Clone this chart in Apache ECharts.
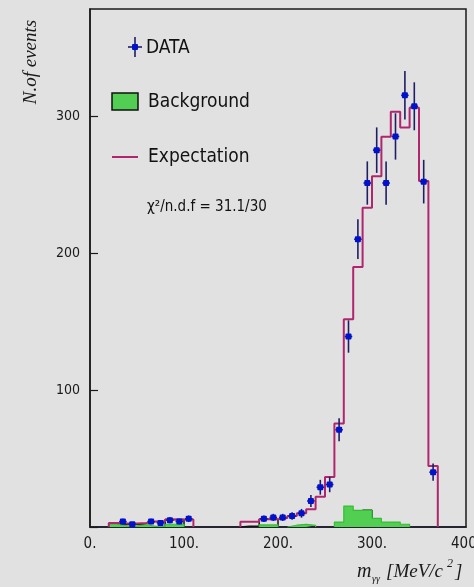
<!DOCTYPE html>
<html>
<head>
<meta charset="utf-8">
<script src="https://cdn.jsdelivr.net/npm/echarts@6/dist/echarts.min.js"></script>
<style>
  html, body { margin: 0; padding: 0; background: #e1e1e1; }
  #chart { width: 474px; height: 587px; }
</style>
</head>
<body>
<div id="chart"></div>
<script>
// Histogram bin width in MeV/c^2
const BIN_WIDTH = 10;

// Measured events: bin centres, counts and statistical errors
const dataMass   = [35, 45, 65, 75, 85, 95, 105, 185, 195, 205, 215, 225, 235, 245, 255, 265, 275, 285, 295, 305, 315, 325, 335, 345, 355, 365];
const dataCounts = [4, 2, 4, 3, 5, 4, 6, 6, 7, 7, 8, 10, 19, 29, 31, 71, 139, 210, 251, 275, 251, 285, 315, 307, 252, 40];
const dataErrors = [2, 1.4, 2, 1.7, 2.2, 2, 2.4, 2.4, 2.6, 2.6, 2.8, 3.2, 4.4, 5.4, 5.6, 8.4, 11.8, 14.5, 15.8, 16.6, 15.8, 16.9, 17.7, 17.5, 15.9, 6.3];

// Expectation histogram (two mass windows), values per bin
const expLeftStart  = 20;
const expLeft       = [3, 2.5, 2.5, 3, 4, 4, 5.5, 5.5, 5.5];
const expRightStart = 160;
const expRight      = [3.9, 3.9, 5.6, 5.6, 6.5, 8, 10, 13, 22, 36.5, 75.5, 151.6, 189.8, 233, 256, 284.7, 303, 291.5, 306, 252.5, 44.5];

// Background histogram, values per bin
const bgLeftStart  = 20;
const bgLeft       = [2, 0.8, 0.8, 1.8, 0.5, 0.5, 2, 2, 0];
const bgRightStart = 180;
const bgRight      = [1.5, 1.5, 0, 1.3, 2, 1.2, 0, 0, 3.6, 15.3, 12.2, 12.2, 6.3, 3.6, 3.6, 2];

// Auxiliary outlined component
const auxStarts = [30, 80, 160, 290];
const auxValues = [[2, 2, 2], [5.5, 5.5], [0.5, 0.5, 5.6, 5.6], [12.2]];

// Axis tick labels
const xTickLabels = ['0.', '100.', '200.', '300.', '400.'];
const yTickLabels = ['', '100', '200', '300'];

const COL_EXP = '#b0266e';
const COL_BG_FILL = '#52cf52';
const COL_BG_EDGE = '#33c033';
const COL_ERR = '#1e1e66';
const COL_MARK = '#0012cc';
const SANS = '"DejaVu Sans Condensed", "DejaVu Sans", sans-serif';
const SERIF = '"Liberation Serif", "DejaVu Serif", serif';

// Turn per-bin values into closed step outline points
function stepPoints(start, values) {
  const pts = [[start, 0]];
  values.forEach((v, i) => pts.push([start + i * BIN_WIDTH, v]));
  const end = start + values.length * BIN_WIDTH;
  pts.push([end, values[values.length - 1]]);
  pts.push([end, 0]);
  return pts;
}

// Split a histogram into runs of non-empty bins
function nonEmptyRuns(start, values) {
  const runs = [];
  let cur = null;
  values.forEach((v, i) => {
    if (v > 0) {
      if (!cur) { cur = { start: start + i * BIN_WIDTH, values: [] }; runs.push(cur); }
      cur.values.push(v);
    } else {
      cur = null;
    }
  });
  return runs;
}

const series = [];

// Auxiliary outlines (underneath)
auxStarts.forEach((s, k) => {
  series.push({
    type: 'line', step: 'end', symbol: 'none', silent: true, z: 1,
    data: stepPoints(s, auxValues[k]),
    lineStyle: { color: '#111', width: 1.5 }
  });
});

// Background fill
[[bgLeftStart, bgLeft], [bgRightStart, bgRight]].forEach(([s, vals]) => {
  nonEmptyRuns(s, vals).forEach(run => {
    series.push({
      type: 'line', step: 'end', symbol: 'none', silent: true, z: 2,
      data: stepPoints(run.start, run.values),
      lineStyle: { color: COL_BG_EDGE, width: 1.2 },
      areaStyle: { color: COL_BG_FILL, opacity: 1, origin: 0 }
    });
  });
});

// Expectation outline
[[expLeftStart, expLeft], [expRightStart, expRight]].forEach(([s, vals]) => {
  series.push({
    type: 'line', step: 'end', symbol: 'none', silent: true, z: 3,
    data: stepPoints(s, vals),
    lineStyle: { color: COL_EXP, width: 2 }
  });
});

// Data points with error bars
series.push({
  type: 'custom', z: 4, silent: true,
  data: dataMass.map((m, i) => [m, dataCounts[i], dataErrors[i]]),
  renderItem: function (params, api) {
    const x = api.value(0), y = api.value(1), e = api.value(2);
    const c = api.coord([x, y]);
    const top = api.coord([x, y + e]);
    const bot = api.coord([x, Math.max(0, y - e)]);
    const l = api.coord([x - BIN_WIDTH / 2 + 1, y]);
    const r = api.coord([x + BIN_WIDTH / 2 - 1, y]);
    return {
      type: 'group',
      children: [
        { type: 'line', shape: { x1: c[0], y1: top[1], x2: c[0], y2: bot[1] }, style: { stroke: COL_ERR, lineWidth: 1.6 } },
        { type: 'line', shape: { x1: l[0], y1: c[1], x2: r[0], y2: c[1] }, style: { stroke: COL_ERR, lineWidth: 1.6 } },
        { type: 'rect', shape: { x: c[0] - 3, y: c[1] - 3, width: 6, height: 6, r: 1 }, style: { fill: COL_MARK } }
      ]
    };
  }
});

const legendFont = '19px ' + SANS;

const option = {
  backgroundColor: '#e1e1e1',
  animation: false,
  grid: { left: 90, right: 8, top: 9, bottom: 60, outerBoundsMode: 'none', containLabel: false, show: true, borderColor: '#1a1a1a', borderWidth: 1.5, backgroundColor: 'transparent' },
  xAxis: {
    type: 'value', min: 0, max: 400, interval: 100,
    splitLine: { show: false },
    axisLine: { show: true, lineStyle: { color: '#1a1a2a', width: 1.5 } },
    axisTick: { show: false },
    axisLabel: { formatter: v => xTickLabels[Math.round(v / 100)], color: '#1a1a1a', fontSize: 15, fontFamily: SANS, margin: 10, showMaxLabel: true, hideOverlap: false }
  },
  yAxis: {
    type: 'value', min: 0, max: 378, interval: 100,
    splitLine: { show: false },
    axisLine: { show: true, lineStyle: { color: '#1a1a1a', width: 1.5 } },
    axisTick: { show: true, inside: true, length: 8, lineStyle: { color: '#1a1a1a', width: 1.2 } },
    axisLabel: { formatter: v => yTickLabels[Math.round(v / 100)] || '', color: '#1a1a1a', fontSize: 14, fontFamily: SANS, margin: 10, showMaxLabel: false }
  },
  graphic: [
    // y-axis title
    { type: 'text', x: 31, y: 62, rotation: Math.PI / 2, style: { text: 'N.of events', font: 'italic 19px ' + SERIF, fill: '#1a1a1a', textAlign: 'center', textVerticalAlign: 'middle' } },
    // x-axis title
    { type: 'text', x: 357, y: 572, style: { text: 'm', font: 'italic 20px ' + SERIF, fill: '#1a1a1a', textVerticalAlign: 'middle' } },
    { type: 'text', x: 372, y: 579, style: { text: 'γγ', font: 'italic 10px ' + SERIF, fill: '#1a1a1a', textVerticalAlign: 'middle' } },
    { type: 'text', x: 386, y: 572, style: { text: '[MeV/c', font: 'italic 19px ' + SERIF, fill: '#1a1a1a', textVerticalAlign: 'middle' } },
    { type: 'text', x: 447, y: 564, style: { text: '2', font: 'italic 12px ' + SERIF, fill: '#1a1a1a', textVerticalAlign: 'middle' } },
    { type: 'text', x: 455, y: 572, style: { text: ']', font: 'italic 19px ' + SERIF, fill: '#1a1a1a', textVerticalAlign: 'middle' } },
    // legend: data
    { type: 'line', shape: { x1: 135, y1: 37, x2: 135, y2: 57 }, style: { stroke: COL_ERR, lineWidth: 1.6 } },
    { type: 'line', shape: { x1: 128, y1: 47, x2: 142, y2: 47 }, style: { stroke: COL_ERR, lineWidth: 1.6 } },
    { type: 'rect', shape: { x: 132, y: 44, width: 6, height: 6, r: 1 }, style: { fill: COL_MARK } },
    { type: 'text', x: 146, y: 48, style: { text: 'DATA', font: legendFont, fill: '#111', textVerticalAlign: 'middle' } },
    // legend: background
    { type: 'rect', shape: { x: 112, y: 93, width: 26, height: 17 }, style: { fill: COL_BG_FILL, stroke: '#111', lineWidth: 1.5 } },
    { type: 'text', x: 148, y: 102, style: { text: 'Background', font: legendFont, fill: '#111', textVerticalAlign: 'middle' } },
    // legend: expectation
    { type: 'line', shape: { x1: 112, y1: 157, x2: 138, y2: 157 }, style: { stroke: COL_EXP, lineWidth: 2 } },
    { type: 'text', x: 148, y: 157, style: { text: 'Expectation', font: legendFont, fill: '#111', textVerticalAlign: 'middle' } },
    // fit quality
    { type: 'text', x: 147, y: 207, style: { text: 'χ²/n.d.f = 31.1/30', font: '15px ' + SANS, fill: '#111', textVerticalAlign: 'middle' } }
  ],
  series: series
};

const chart = echarts.init(document.getElementById('chart'), null, { renderer: 'canvas' });
chart.setOption(option);
</script>
</body>
</html>
